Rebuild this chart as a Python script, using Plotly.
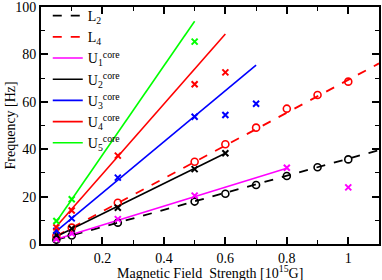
import plotly.graph_objects as go

# ---- data ----
B_L = [0.05, 0.1, 0.25, 0.5, 0.6, 0.7, 0.8, 0.9, 1.0]
L2_pts = [1.8, 3.6, 9.0, 17.9, 21.2, 24.9, 28.7, 32.4, 35.7]
L4_pts = [3.5, 6.9, 17.4, 34.7, 42.1, 49.1, 57.1, 62.9, 68.5]

U1_x = [0.05, 0.1, 0.25, 0.5, 0.8, 1.0]
U1_pts = [2.1, 4.5, 10.5, 20.4, 32.2, 23.9]
U2_x = [0.05, 0.1, 0.25, 0.5, 0.6]
U2_pts = [3.8, 6.5, 15.3, 31.6, 38.3]
U3_x = [0.05, 0.1, 0.25, 0.5, 0.6, 0.7]
U3_pts = [5.6, 10.8, 28.0, 53.7, 54.4, 59.2]
U4_x = [0.05, 0.1, 0.25, 0.5, 0.6]
U4_pts = [7.0, 14.1, 37.3, 67.4, 72.4]
U5_x = [0.05, 0.1, 0.5]
U5_pts = [9.7, 18.9, 85.4]

# fit lines (start / end)
L2_fit_x = [0.05, 1.1]; L2_fit_y = [1.8, 39.6]
L4_fit_x = [0.05, 1.1]; L4_fit_y = [3.4, 76.2]
U1_fit_x = [0.05, 0.8]; U1_fit_y = [2.0, 32.0]
U2_fit_x = [0.05, 0.6]; U2_fit_y = [3.2, 38.3]
U3_fit_x = [0.05, 0.7]; U3_fit_y = [5.4, 75.5]
U4_fit_x = [0.05, 0.6]; U4_fit_y = [7.4, 88.6]
U5_fit_x = [0.05, 0.5]; U5_fit_y = [9.4, 94.0]

x_ticks = [0.2, 0.4, 0.6, 0.8, 1.0]
x_tick_labels = ["0.2", "0.4", "0.6", "0.8", "1"]
y_ticks = [0, 20, 40, 60, 80, 100]

x_title = "Magnetic Field  Strength [10<sup>15</sup>G]"
y_title = "Frequency [Hz]"

BLACK = "#000000"; RED = "#ff0000"; MAG = "#ff00ff"; BLUE = "#0000ff"; GREEN = "#00ff00"

fig = go.Figure()

lines = [
    ("L<sub>2</sub>", L2_fit_x, L2_fit_y, BLACK, "dash"),
    ("L<sub>4</sub>", L4_fit_x, L4_fit_y, RED, "dash"),
    ("U<sub>1</sub><sup>core</sup>", U1_fit_x, U1_fit_y, MAG, "solid"),
    ("U<sub>2</sub><sup>core</sup>", U2_fit_x, U2_fit_y, BLACK, "solid"),
    ("U<sub>3</sub><sup>core</sup>", U3_fit_x, U3_fit_y, BLUE, "solid"),
    ("U<sub>4</sub><sup>core</sup>", U4_fit_x, U4_fit_y, RED, "solid"),
    ("U<sub>5</sub><sup>core</sup>", U5_fit_x, U5_fit_y, GREEN, "solid"),
]
for name, xs, ys, col, dash in lines:
    fig.add_trace(go.Scatter(x=xs, y=ys, mode="lines", name=name,
                             line=dict(color=col, width=1.6 if dash == "solid" else 1.8,
                                       dash="dash" if dash == "dash" else None)))

circ = [(B_L, L2_pts, BLACK), (B_L, L4_pts, RED)]
for xs, ys, col in circ:
    fig.add_trace(go.Scatter(x=xs, y=ys, mode="markers", showlegend=False,
                             marker=dict(symbol="circle-open", size=7, color=col, line=dict(width=1.6))))

crosses = [(U1_x, U1_pts, MAG), (U2_x, U2_pts, BLACK), (U3_x, U3_pts, BLUE),
           (U4_x, U4_pts, RED), (U5_x, U5_pts, GREEN)]
for xs, ys, col in crosses:
    fig.add_trace(go.Scatter(x=xs, y=ys, mode="markers", showlegend=False,
                             marker=dict(symbol="x-thin-open", size=6, color=col, line=dict(width=2, color=col))))

font = "Liberation Serif"
fig.update_layout(
    width=382, height=280,
    margin=dict(l=41, r=3, t=7, b=36, autoexpand=False),
    paper_bgcolor="white", plot_bgcolor="white",
    font=dict(family=font, size=14, color="black"),
    showlegend=True,
    legend=dict(x=0.02, y=1.0, xanchor="left", yanchor="top", bgcolor="rgba(0,0,0,0)",
                yref="container", 
                font=dict(family=font, size=14), tracegroupgap=0, itemwidth=30, maxheight=400),
    xaxis=dict(range=[0, 1.1], tickvals=x_ticks, ticktext=x_tick_labels, automargin=False,
               ticklabeloverflow="allow",
               ticks="inside", ticklen=7, tickwidth=1.5, tickcolor="black",
               showline=True, linecolor="black", linewidth=2, mirror="ticks",
               showgrid=False, zeroline=False,
               minor=dict(dtick=0.1, tick0=0, ticks="inside", ticklen=4, tickwidth=1.2, tickcolor="black"),
               tickfont=dict(family=font, size=14)),
    yaxis=dict(range=[0, 100], tickvals=y_ticks, automargin=False,
               ticklabeloverflow="allow",
               ticks="inside", ticklen=7, tickwidth=1.5, tickcolor="black",
               showline=True, linecolor="black", linewidth=2, mirror="ticks",
               showgrid=False, zeroline=False,
               minor=dict(dtick=10, tick0=0, ticks="inside", ticklen=4, tickwidth=1.2, tickcolor="black"),
               tickfont=dict(family=font, size=14)),
    annotations=[
        dict(text=x_title, xref="paper", yref="paper", x=0.5, y=0, yshift=-28,
             xanchor="center", yanchor="middle", showarrow=False, font=dict(family=font, size=14)),
        dict(text=y_title, xref="paper", yref="paper", x=0, y=0.5, xshift=-31,
             xanchor="center", yanchor="middle", textangle=-90, showarrow=False,
             font=dict(family=font, size=14)),
    ],
)

fig.write_html("out.html", config={"displayModeBar": False},
               post_script="document.body.style.margin='0px';document.body.style.padding='0px';")
